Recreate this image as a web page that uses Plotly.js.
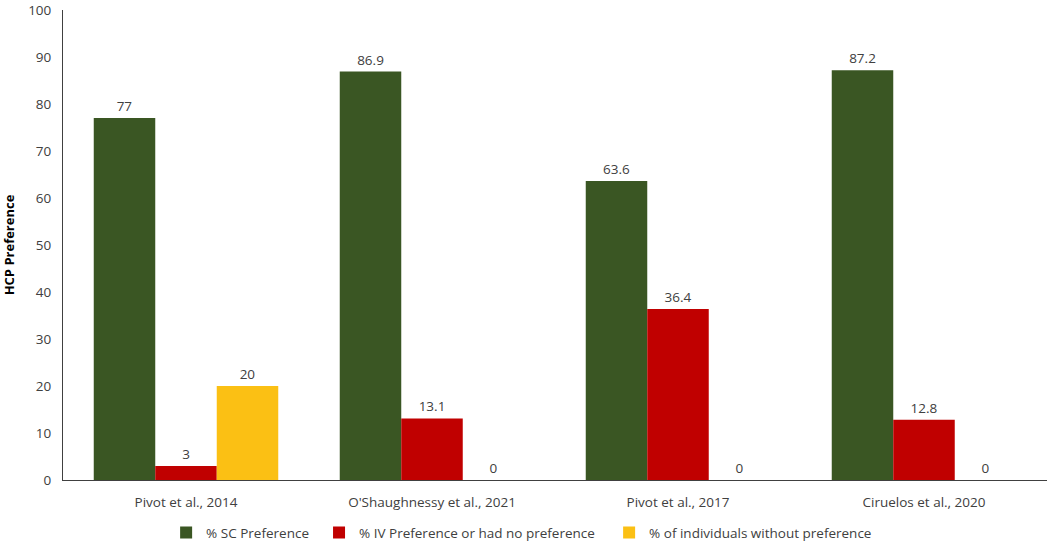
<!DOCTYPE html>
<html>
<head>
<meta charset="utf-8">
<script src="https://cdn.plot.ly/plotly-3.0.1.min.js"></script>
<style>html,body{margin:0;padding:0;background:#fff;}#chart{width:1052px;height:554px;}</style>
</head>
<body>
<div id="chart"></div>
<script>
const categories = ["Pivot et al., 2014", "O'Shaughnessy et al., 2021", "Pivot et al., 2017", "Ciruelos et al., 2020"];
const seriesNames = ["% SC Preference", "% IV Preference or had no preference", "% of individuals without preference"];
const scValues = [77, 86.9, 63.6, 87.2];
const ivValues = [3, 13.1, 36.4, 12.8];
const noPrefValues = [20, 0, 0, 0];
const yTicks = [0, 10, 20, 30, 40, 50, 60, 70, 80, 90, 100];

const colors = ["#3A5623", "#C00000", "#FBC014"];
const fam = "Open Sans, Noto Sans, sans-serif";
const txtColor = "#404040";
const fs = 13.5;

function mk(name, vals, color, legendId) {
  return {
    type: "bar", name: name, x: categories, y: vals,
    marker: {color: color, line: {width: 0}},
    text: vals.map(v => String(v)), textposition: "outside",
    textfont: {family: fam, size: fs, color: txtColor},
    cliponaxis: false, hoverinfo: "none", legend: legendId
  };
}

const data = [
  mk(seriesNames[0], scValues, colors[0], "legend"),
  mk(seriesNames[1], ivValues, colors[1], "legend2"),
  mk(seriesNames[2], noPrefValues, colors[2], "legend3")
];

function leg(x) {
  return {orientation: "h", x: x, xanchor: "left", y: -0.112, yanchor: "middle",
          font: {family: fam, size: fs, color: txtColor}, itemwidth: 30, bgcolor: "rgba(0,0,0,0)"};
}

const layout = {
  width: 1052, height: 554,
  margin: {l: 63, r: 5, t: 10, b: 74},
  paper_bgcolor: "#fff", plot_bgcolor: "#fff",
  font: {family: fam, size: fs, color: txtColor},
  barmode: "group", bargap: 0.25, bargroupgap: 0,
  showlegend: true,
  legend: leg(0.1048),
  legend2: leg(0.2602),
  legend3: leg(0.555),
  xaxis: {showline: true, linecolor: "#404040", linewidth: 1, showgrid: false, ticks: "",
          ticklabelstandoff: 10,
          tickfont: {family: fam, size: fs, color: txtColor}, fixedrange: true},
  yaxis: {range: [0, 100], tickvals: yTicks, showline: true, linecolor: "#404040", linewidth: 1,
          showgrid: false, zeroline: false, ticks: "", ticklen: 0,
          ticklabelstandoff: 8, ticklabeloverflow: "allow",
          tickfont: {family: fam, size: fs, color: txtColor},
          title: {text: "<b>HCP Preference</b>", font: {family: fam, size: 13, color: "#000"}, standoff: 10},
          fixedrange: true}
};

Plotly.newPlot("chart", data, layout, {staticPlot: true});
</script>
</body>
</html>
